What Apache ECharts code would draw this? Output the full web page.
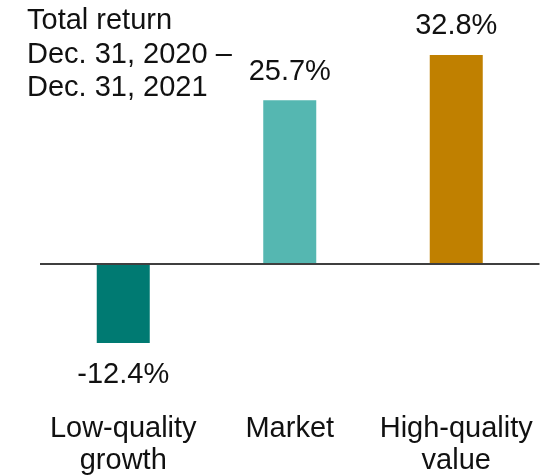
<!DOCTYPE html>
<html>
<head>
<meta charset="utf-8">
<script src="https://cdn.jsdelivr.net/npm/echarts@6/dist/echarts.min.js"></script>
<style>
  html, body { margin: 0; padding: 0; background: #fff; }
  #chart { width: 549px; height: 475px; }
</style>
</head>
<body>
<div id="chart"></div>
<script>
const categories = ["Low-quality\ngrowth", "Market", "High-quality\nvalue"];
const returns = [-12.4, 25.7, 32.8];
const barColors = ["#007a72", "#55b7b1", "#c08000"];

const FONT = "'Liberation Sans', Arial, sans-serif";

const chart = echarts.init(document.getElementById("chart"));

const option = {
  animation: false,
  title: {
    text: "Total return\nDec. 31, 2020 –\nDec. 31, 2021",
    left: 27,
    top: 4.5,
    padding: 0,
    textStyle: {
      fontFamily: FONT,
      fontSize: 29,
      fontWeight: "normal",
      lineHeight: 33.5,
      color: "#111",
    },
  },
  grid: {
    left: 40,
    right: 9.5,
    top: 9,
    height: 382.5,
    containLabel: false,
    outerBoundsMode: "none",
  },
  xAxis: {
    type: "category",
    position: "bottom",
    data: categories,
    axisLine: { show: false, onZero: false },
    axisTick: { show: false },
    axisLabel: {
      interval: 0,
      margin: 21,
      fontFamily: FONT,
      fontSize: 29,
      lineHeight: 32,
      color: "#111",
    },
  },
  yAxis: {
    type: "value",
    min: -20,
    max: 40,
    show: false,
    splitLine: { show: false },
  },
  series: [
    {
      type: "bar",
      barWidth: 53,
      data: returns.map((v, i) => ({
        value: v,
        itemStyle: { color: barColors[i] },
        label: {
          position: v < 0 ? "bottom" : "top",
          distance: v < 0 ? 17 : 14,
        },
      })),
      label: {
        show: true,
        fontFamily: FONT,
        fontSize: 29,
        color: "#111",
        formatter: (p) => p.value.toFixed(1) + "%",
      },
      // zero baseline across the plot
      markLine: {
        silent: true,
        symbol: "none",
        label: { show: false },
        lineStyle: { color: "#3f3f3f", width: 2, type: "solid" },
        data: [{ yAxis: 0 }],
      },
    },
  ],
};

chart.setOption(option);

window.addEventListener("resize", () => chart.resize());
</script>
</body>
</html>
